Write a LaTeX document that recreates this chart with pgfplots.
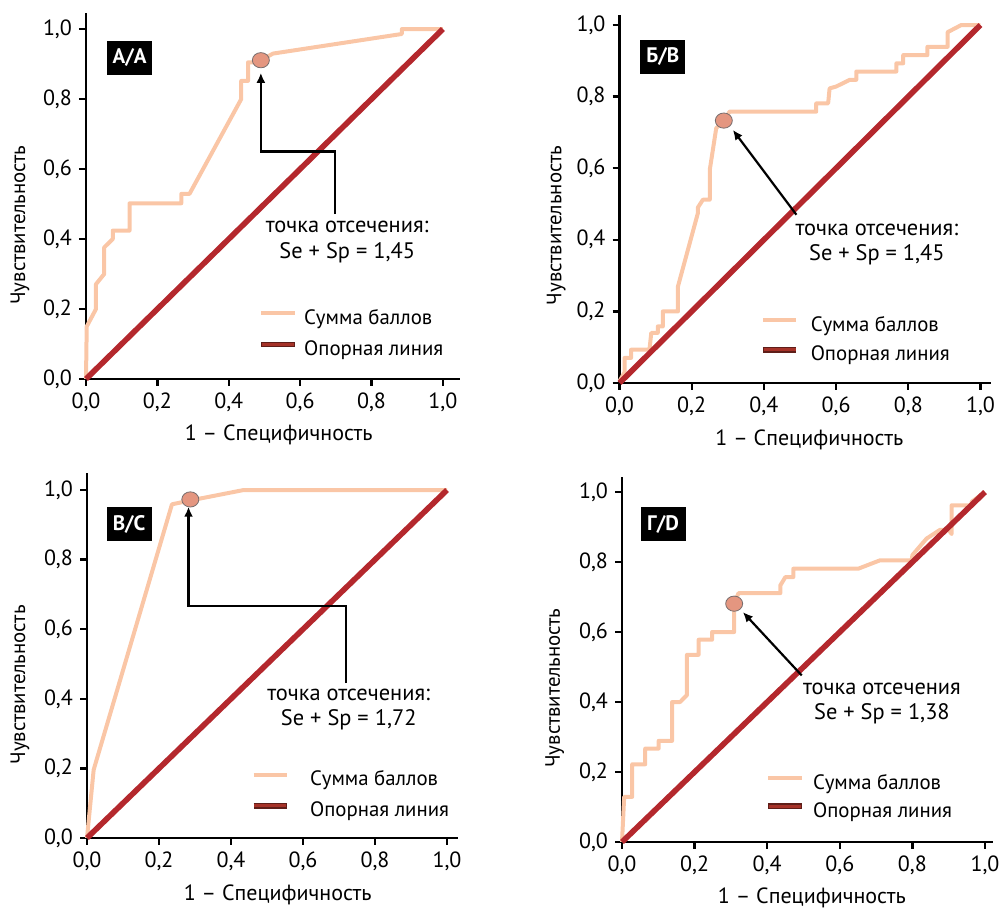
\documentclass[border=0pt]{standalone}
\usepackage{fontspec}
\setmainfont{PT Sans}
\usepackage{graphicx}
\usepackage{pgfplots}
\pgfplotsset{compat=1.18}
\usetikzlibrary{arrows.meta}

\definecolor{peach}{RGB}{250,198,166}
\definecolor{refred}{RGB}{180,40,45}
\definecolor{legred}{RGB}{165,50,40}
\definecolor{legedge}{RGB}{95,30,25}
\definecolor{mfill}{RGB}{228,150,128}
\definecolor{mdraw}{RGB}{120,110,110}

\newcommand{\fs}{\fontsize{10.4}{12}\selectfont}
\newcommand{\fst}{\fontsize{11}{13}\selectfont}
\newcommand{\fsa}{\fontsize{11.2}{13}\selectfont}

\pgfplotsset{
 roc/.style={
  scale only axis, clip=false,
  axis x line*=bottom, axis y line*=left,
  xmin=0, ymin=0,
  xtick={0,0.2,0.4,0.6,0.8,1}, ytick={0,0.2,0.4,0.6,0.8,1},
  xticklabels={{0,0},{0,2},{0,4},{0,6},{0,8},{1,0}},
  yticklabels={{0,0},{0,2},{0,4},{0,6},{0,8},{1,0}},
  tick align=outside, major tick length=3.5pt,
  major tick style={black, line width=1.2pt},
  axis line style={black, line width=1.4pt},
  tick label style={font=\fst},
  xlabel style={font=\fst},
  ylabel style={font=\fs},
  xlabel={1 – Специфичность},
  ylabel={Чувствительность},
  legend cell align=left,
  legend style={draw=none, fill=none, inner sep=0pt, font=\fs,
    nodes={inner sep=0pt, text height=7pt, text depth=2pt}},
 },
 curve/.style={peach, line width=2pt, line join=round,
   legend image code/.code={\draw[peach, line width=2pt] (0pt,3pt) -- (16.8pt,3pt);}},
 diag/.style={refred, line width=2.8pt,
   legend image code/.code={\draw[legedge, line width=2.8pt] (0pt,3pt) -- (16.8pt,3pt);
     \draw[legred, line width=1.5pt] (0.4pt,3pt) -- (16.4pt,3pt);}},
 cut/.style={only marks, mark=*, mark size=3.8pt, forget plot,
   mark options={xscale=1.12, fill=mfill, draw=mdraw, line width=0.4pt}},
 mylegend/.style n args={4}{legend style={at={(axis cs:#1,#2)}, anchor=west,
   row sep=#3, /tikz/every odd column/.append style={column sep=#4}}},
}
\tikzset{
 panel/.style={fill=black, text=white, font=\bfseries\fontsize{10.5}{12}\selectfont,
   minimum width=22.5pt, minimum height=17pt, inner sep=0pt},
 ann/.style={font=\fsa, text height=7.5pt, text depth=2pt, inner sep=0pt, anchor=center},
 arr/.style={black, line width=1.1pt, -{Latex[length=5pt,width=4.5pt]}},
}

\begin{document}
\begin{tikzpicture}
\useasboundingbox (0pt,0pt) rectangle (503pt,454pt);

% ---------- A/A ----------
\begin{axis}[roc, at={(43pt,264.5pt)}, anchor=south west,
  width=187pt, height=183pt, xmax=1.048, ymax=1.046,
  xlabel style={at={(axis cs:0.54,-0.16)}, anchor=center},
  ylabel style={at={(axis cs:-0.185,0.44)}, anchor=center},
  mylegend={0.482}{0.126}{6.75pt}{3.3pt}]
\addplot[curve] coordinates {(0,0) (0.002,0.15) (0.028,0.2) (0.028,0.271) (0.051,0.30) (0.051,0.376) (0.075,0.40) (0.075,0.424) (0.122,0.424) (0.122,0.502) (0.267,0.502) (0.267,0.529) (0.290,0.529) (0.435,0.80) (0.435,0.852) (0.454,0.852) (0.454,0.905) (0.475,0.905) (0.49,0.911) (0.524,0.93) (0.885,0.986) (0.885,1.0) (1,1)};
\addlegendentry{Сумма баллов}
\addplot[diag] coordinates {(0,0) (1,1)};
\addlegendentry{Опорная линия}
\addplot[cut] coordinates {(0.49,0.911)};
\draw[arr] (axis cs:0.698,0.471) -- (axis cs:0.698,0.650) -- (axis cs:0.49,0.650) -- (axis cs:0.49,0.875);
\node[ann] at (axis cs:0.732,0.433) {точка отсечения:};
\node[ann] at (axis cs:0.732,0.360) {Se + Sp = 1,45};
\node[panel] at (axis cs:0.122,0.918) {А/А};
\end{axis}

% ---------- Б/В ----------
\begin{axis}[roc, at={(309.75pt,262.5pt)}, anchor=south west,
  width=185.9pt, height=184pt, xmax=1.03, ymax=1.028,
  xlabel style={at={(axis cs:0.526,-0.16)}, anchor=center},
  ylabel style={at={(axis cs:-0.175,0.44)}, anchor=center},
  mylegend={0.388}{0.117}{5.7pt}{5.8pt}]
\addplot[curve] coordinates {(0,0.005) (0.014,0.03) (0.014,0.07) (0.032,0.07) (0.032,0.093) (0.083,0.093) (0.088,0.14) (0.106,0.14) (0.106,0.158) (0.12,0.158) (0.12,0.2) (0.162,0.2) (0.162,0.27) (0.217,0.474) (0.217,0.49) (0.231,0.512) (0.25,0.512) (0.25,0.595) (0.268,0.712) (0.289,0.733) (0.305,0.758) (0.545,0.758) (0.545,0.781) (0.578,0.781) (0.582,0.823) (0.6,0.828) (0.638,0.847) (0.656,0.847) (0.656,0.87) (0.767,0.87) (0.767,0.893) (0.786,0.893) (0.786,0.916) (0.853,0.916) (0.853,0.939) (0.909,0.939) (0.909,0.98) (0.947,1.0) (1,1)};
\addlegendentry{Сумма баллов}
\addplot[diag] coordinates {(0,0) (1,1)};
\addlegendentry{Опорная линия}
\addplot[cut] coordinates {(0.289,0.733)};
\draw[arr] (axis cs:0.49,0.47) -- (axis cs:0.314,0.707);
\node[ann] at (axis cs:0.713,0.428) {точка отсечения:};
\node[ann] at (axis cs:0.713,0.358) {Se + Sp = 1,45};
\node[panel] at (axis cs:0.12,0.911) {Б/В};
\end{axis}

% ---------- В/С ----------
\begin{axis}[roc, at={(43.5pt,35pt)}, anchor=south west,
  width=185.4pt, height=182.5pt, xmax=1.03, ymax=1.049,
  xlabel style={at={(axis cs:0.53,-0.163)}, anchor=center},
  ylabel style={at={(axis cs:-0.186,0.44)}, anchor=center},
  mylegend={0.454}{0.12}{6.5pt}{10pt}]
\addplot[curve] coordinates {(0,0) (0.0185,0.196) (0.236,0.959) (0.287,0.97) (0.435,1.0) (1,1)};
\addlegendentry{Сумма баллов}
\addplot[diag] coordinates {(0,0) (1,1)};
\addlegendentry{Опорная линия}
\addplot[cut] coordinates {(0.287,0.973)};
\draw[arr] (axis cs:0.719,0.445) -- (axis cs:0.719,0.667) -- (axis cs:0.282,0.667) -- (axis cs:0.282,0.952);
\node[ann] at (axis cs:0.727,0.411) {точка отсечения:};
\node[ann] at (axis cs:0.727,0.340) {Se + Sp = 1,72};
\node[panel] at (axis cs:0.117,0.902) {В/С};
\end{axis}

% ---------- Г/D ----------
\begin{axis}[roc, at={(311pt,33pt)}, anchor=south west,
  width=185.5pt, height=182.5pt, xmax=1.022, ymax=1.043,
  xlabel style={at={(axis cs:0.523,-0.16)}, anchor=center},
  ylabel style={at={(axis cs:-0.185,0.44)}, anchor=center},
  mylegend={0.394}{0.125}{4.8pt}{4.2pt}]
\addplot[curve] coordinates {(0,0) (0.006,0.129) (0.028,0.129) (0.028,0.222) (0.064,0.222) (0.064,0.267) (0.101,0.267) (0.101,0.289) (0.138,0.289) (0.138,0.40) (0.16,0.40) (0.179,0.42) (0.179,0.535) (0.211,0.535) (0.211,0.578) (0.248,0.578) (0.248,0.60) (0.309,0.60) (0.309,0.662) (0.312,0.69) (0.321,0.711) (0.436,0.711) (0.436,0.733) (0.45,0.757) (0.472,0.757) (0.472,0.781) (0.651,0.781) (0.711,0.805) (0.798,0.805) (0.80,0.82) (0.839,0.867) (0.876,0.892) (0.90,0.892) (0.908,0.88) (0.908,0.962) (0.963,0.962) (0.963,0.972) (1,1)};
\addlegendentry{Сумма баллов}
\addplot[diag] coordinates {(0,0) (1,1)};
\addlegendentry{Опорная линия}
\addplot[cut] coordinates {(0.309,0.681)};
\draw[arr] (axis cs:0.495,0.476) -- (axis cs:0.333,0.657);
\node[ann] at (axis cs:0.716,0.438) {точка отсечения};
\node[ann] at (axis cs:0.716,0.365) {Se + Sp = 1,38};
\node[panel] at (axis cs:0.113,0.908) {Г/D};
\end{axis}
\end{tikzpicture}
\end{document}
